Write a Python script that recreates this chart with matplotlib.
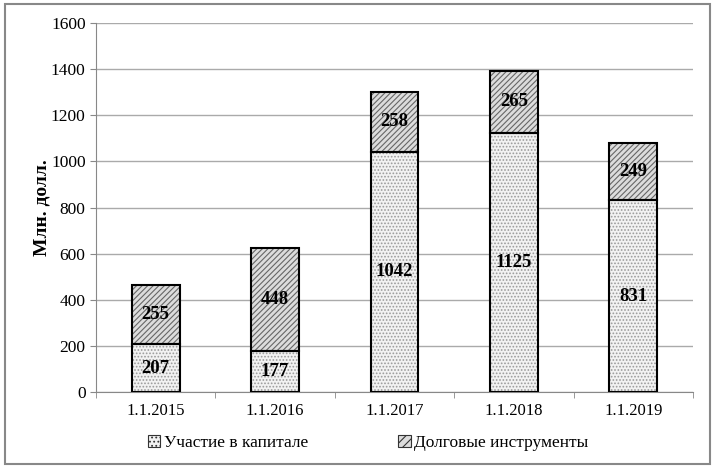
import matplotlib.pyplot as plt
import matplotlib.patches as mpatches
import numpy as np

plt.rcParams['font.family'] = ['Liberation Serif', 'DejaVu Serif']
plt.rcParams['hatch.linewidth'] = 0.8

dates = ['1.1.2015', '1.1.2016', '1.1.2017', '1.1.2018', '1.1.2019']
equity = [207, 177, 1042, 1125, 831]
debt = [255, 448, 258, 265, 249]
series_names = ['Участие в капитале', 'Долговые инструменты']

fig = plt.figure(figsize=(7.15, 4.68), dpi=100)
ax = fig.add_axes([96 / 715, 76 / 468, 597 / 715, 369 / 468])

x = np.arange(len(dates))
w = 0.4

# equity: light stipple
ax.bar(x, equity, w, color='#f2f2f2', hatch='.....', edgecolor='#9a9a9a', linewidth=0, zorder=2)
ax.bar(x, equity, w, fill=False, edgecolor='black', linewidth=1.5, zorder=3)
# debt: diagonal hatch
ax.bar(x, debt, w, bottom=equity, color='#dcdcdc', hatch='//////', edgecolor='#666666', linewidth=0, zorder=2)
ax.bar(x, debt, w, bottom=equity, fill=False, edgecolor='black', linewidth=1.5, zorder=3)

for i in range(len(dates)):
    ax.text(x[i], equity[i] / 2, str(equity[i]), ha='center', va='center',
            fontsize=13.5, fontweight='bold', zorder=4)
    ax.text(x[i], equity[i] + debt[i] / 2, str(debt[i]), ha='center', va='center',
            fontsize=13.5, fontweight='bold', zorder=4)

ax.set_xlim(-0.5, len(dates) - 0.5)
ax.set_ylim(0, 1600)
ax.set_yticks(np.arange(0, 1601, 200))
ax.set_xticks(x)
ax.set_xticklabels(dates)
ax.set_xticks(np.arange(-0.5, len(dates), 1), minor=True)
ax.tick_params(axis='x', which='major', length=0, labelsize=12, pad=8)
ax.tick_params(axis='x', which='minor', length=4, color='#888888')
ax.tick_params(axis='y', length=4, color='#888888', labelsize=12.5)
ax.yaxis.grid(True, color='#aaaaaa', linewidth=1)
ax.set_axisbelow(True)
for s in ['top', 'right']:
    ax.spines[s].set_visible(False)
ax.spines['left'].set_color('#888888')
ax.spines['bottom'].set_color('#888888')
ax.set_ylabel('Млн. долл.', fontsize=14, fontweight='bold', labelpad=0)

h1 = mpatches.Patch(facecolor='#f2f2f2', hatch='....', edgecolor='#333333', linewidth=0.8)
h2 = mpatches.Patch(facecolor='#dcdcdc', hatch='////', edgecolor='#333333', linewidth=0.8)
fig.legend([h1, h2], series_names, loc='center', bbox_to_anchor=(0.515, 25 / 468),
           ncol=2, frameon=False, fontsize=12.5, handlelength=0.7, handleheight=0.7,
           handletextpad=0.2, columnspacing=5.2)

fig.patches.append(mpatches.Rectangle((5 / 715, 4 / 468), 705 / 715, 460 / 468,
                                      transform=fig.transFigure, fill=False,
                                      edgecolor='#888888', linewidth=1.5))

fig.savefig('out.png', dpi=100)
